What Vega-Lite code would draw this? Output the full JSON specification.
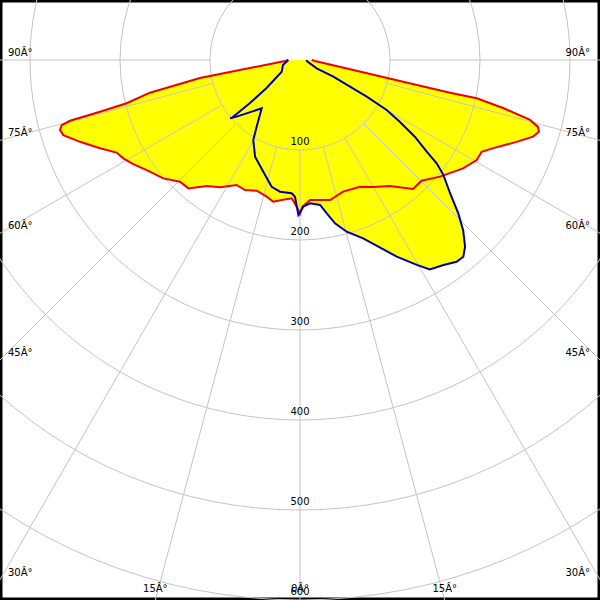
{
  "$schema": "https://vega.github.io/schema/vega-lite/v6.json",
  "width": 600,
  "height": 600,
  "autosize": {"type": "fit", "contains": "padding"},
  "padding": 0,
  "background": "white",
  "config": {
    "view": {"stroke": "black", "strokeWidth": 5},
    "text": {"font": "DejaVu Sans", "fontSize": 10, "color": "black"}
  },
  "datasets": {
    "curves": [
      {"c": "red", "i": 0, "a": -90, "v": 13},
      {"c": "red", "i": 1, "a": -86.2, "v": 16.7},
      {"c": "red", "i": 2, "a": -79.8, "v": 112.9},
      {"c": "red", "i": 3, "a": -77.7, "v": 170.6},
      {"c": "red", "i": 4, "a": -76.0, "v": 198.5},
      {"c": "red", "i": 5, "a": -75.5, "v": 229.5},
      {"c": "red", "i": 6, "a": -75.2, "v": 264.3},
      {"c": "red", "i": 7, "a": -74.7, "v": 274.5},
      {"c": "red", "i": 8, "a": -73.7, "v": 277.8},
      {"c": "red", "i": 9, "a": -72.4, "v": 275.9},
      {"c": "red", "i": 10, "a": -69.6, "v": 260.8},
      {"c": "red", "i": 11, "a": -66.2, "v": 242.9},
      {"c": "red", "i": 12, "a": -63.2, "v": 228.2},
      {"c": "red", "i": 13, "a": -60.9, "v": 224.7},
      {"c": "red", "i": 14, "a": -58.0, "v": 218.5},
      {"c": "red", "i": 15, "a": -54.3, "v": 209.7},
      {"c": "red", "i": 16, "a": -49.1, "v": 200.9},
      {"c": "red", "i": 17, "a": -44.6, "v": 189.9},
      {"c": "red", "i": 18, "a": -41.0, "v": 189.0},
      {"c": "red", "i": 19, "a": -36.5, "v": 174.2},
      {"c": "red", "i": 20, "a": -32.1, "v": 167.0},
      {"c": "red", "i": 21, "a": -26.9, "v": 155.7},
      {"c": "red", "i": 22, "a": -22.9, "v": 156.8},
      {"c": "red", "i": 23, "a": -18.3, "v": 153.0},
      {"c": "red", "i": 24, "a": -13.7, "v": 156.3},
      {"c": "red", "i": 25, "a": -10.7, "v": 160.2},
      {"c": "red", "i": 26, "a": -7.4, "v": 156.9},
      {"c": "red", "i": 27, "a": -3.4, "v": 153.9},
      {"c": "red", "i": 28, "a": -1.3, "v": 163.0},
      {"c": "red", "i": 29, "a": 0, "v": 171},
      {"c": "red", "i": 30, "a": 1.0, "v": 163.0},
      {"c": "red", "i": 31, "a": 4.1, "v": 156.0},
      {"c": "red", "i": 32, "a": 12.1, "v": 159.1},
      {"c": "red", "i": 33, "a": 18.1, "v": 153.9},
      {"c": "red", "i": 34, "a": 25.3, "v": 155.8},
      {"c": "red", "i": 35, "a": 29.9, "v": 162.8},
      {"c": "red", "i": 36, "a": 35.5, "v": 172.0},
      {"c": "red", "i": 37, "a": 41.2, "v": 190.6},
      {"c": "red", "i": 38, "a": 45.2, "v": 190.4},
      {"c": "red", "i": 39, "a": 50.2, "v": 202.5},
      {"c": "red", "i": 40, "a": 56.4, "v": 217.5},
      {"c": "red", "i": 41, "a": 60.5, "v": 225.6},
      {"c": "red", "i": 42, "a": 63.2, "v": 226.1},
      {"c": "red", "i": 43, "a": 65.5, "v": 236.1},
      {"c": "red", "i": 44, "a": 69.3, "v": 257.3},
      {"c": "red", "i": 45, "a": 71.8, "v": 272.6},
      {"c": "red", "i": 46, "a": 73.3, "v": 277.2},
      {"c": "red", "i": 47, "a": 74.3, "v": 274.6},
      {"c": "red", "i": 48, "a": 75.4, "v": 264.1},
      {"c": "red", "i": 49, "a": 76.7, "v": 231.8},
      {"c": "red", "i": 50, "a": 77.8, "v": 200.9},
      {"c": "red", "i": 51, "a": 77.7, "v": 170.6},
      {"c": "red", "i": 52, "a": 78.1, "v": 113.5},
      {"c": "red", "i": 53, "a": 86.2, "v": 16.7},
      {"c": "red", "i": 54, "a": 90, "v": 13},
      {"c": "blue", "i": 0, "a": -90, "v": 13},
      {"c": "blue", "i": 1, "a": -73.6, "v": 19.7},
      {"c": "blue", "i": 2, "a": -57.4, "v": 24.1},
      {"c": "blue", "i": 3, "a": -50.1, "v": 48.4},
      {"c": "blue", "i": 4, "a": -49.3, "v": 73.3},
      {"c": "blue", "i": 5, "a": -49.7, "v": 99.6},
      {"c": "blue", "i": 6, "a": -50.2, "v": 101.2},
      {"c": "blue", "i": 7, "a": -48.2, "v": 94.4},
      {"c": "blue", "i": 8, "a": -38.4, "v": 68.5},
      {"c": "blue", "i": 9, "a": -33.0, "v": 88.4},
      {"c": "blue", "i": 10, "a": -30.3, "v": 102.9},
      {"c": "blue", "i": 11, "a": -24.9, "v": 118.5},
      {"c": "blue", "i": 12, "a": -18.2, "v": 130.6},
      {"c": "blue", "i": 13, "a": -12.6, "v": 144.3},
      {"c": "blue", "i": 14, "a": -8.6, "v": 148.0},
      {"c": "blue", "i": 15, "a": -3.6, "v": 148.4},
      {"c": "blue", "i": 16, "a": -2.1, "v": 152.0},
      {"c": "blue", "i": 17, "a": -0.6, "v": 172.2},
      {"c": "blue", "i": 18, "a": 1.3, "v": 163.0},
      {"c": "blue", "i": 19, "a": 4.0, "v": 159.6},
      {"c": "blue", "i": 20, "a": 7.9, "v": 162.6},
      {"c": "blue", "i": 21, "a": 9.9, "v": 172.9},
      {"c": "blue", "i": 22, "a": 12.1, "v": 185.6},
      {"c": "blue", "i": 23, "a": 15.2, "v": 197.7},
      {"c": "blue", "i": 24, "a": 19.5, "v": 210.2},
      {"c": "blue", "i": 25, "a": 26.2, "v": 243.5},
      {"c": "blue", "i": 26, "a": 29.7, "v": 262.1},
      {"c": "blue", "i": 27, "a": 31.8, "v": 273.8},
      {"c": "blue", "i": 28, "a": 35.0, "v": 278.0},
      {"c": "blue", "i": 29, "a": 37.8, "v": 283.8},
      {"c": "blue", "i": 30, "a": 39.7, "v": 284.1},
      {"c": "blue", "i": 31, "a": 41.5, "v": 276.8},
      {"c": "blue", "i": 32, "a": 43.8, "v": 261.9},
      {"c": "blue", "i": 33, "a": 45.9, "v": 244.9},
      {"c": "blue", "i": 34, "a": 48.4, "v": 223.0},
      {"c": "blue", "i": 35, "a": 51.3, "v": 204.1},
      {"c": "blue", "i": 36, "a": 52.9, "v": 190.4},
      {"c": "blue", "i": 37, "a": 54.1, "v": 173.8},
      {"c": "blue", "i": 38, "a": 56.2, "v": 153.8},
      {"c": "blue", "i": 39, "a": 58.2, "v": 130.7},
      {"c": "blue", "i": 40, "a": 60.0, "v": 111.2},
      {"c": "blue", "i": 41, "a": 61.2, "v": 84.6},
      {"c": "blue", "i": 42, "a": 61.9, "v": 63.0},
      {"c": "blue", "i": 43, "a": 63.4, "v": 41.4},
      {"c": "blue", "i": 44, "a": 63.6, "v": 20.7},
      {"c": "blue", "i": 45, "a": 80, "v": 8},
      {"c": "blue", "i": 46, "a": 90, "v": 7}
    ],
    "rings": [
      {"r": 100, "label": "100"},
      {"r": 200, "label": "200"},
      {"r": 300, "label": "300"},
      {"r": 400, "label": "400"},
      {"r": 500, "label": "500"},
      {"r": 600, "label": "600"}
    ],
    "spokes": [
      {"a": -90}, {"a": -75}, {"a": -60}, {"a": -45}, {"a": -30}, {"a": -15}, {"a": 0},
      {"a": 15}, {"a": 30}, {"a": 45}, {"a": 60}, {"a": 75}, {"a": 90}
    ],
    "leftLabels": [
      {"a": -90, "r": 333.333, "label": "90Â°"},
      {"a": -75, "r": 345.09, "label": "75Â°"},
      {"a": -60, "r": 384.9, "label": "60Â°"},
      {"a": -45, "r": 471.4, "label": "45Â°"},
      {"a": -30, "r": 666.667, "label": "30Â°"}
    ],
    "rightLabels": [
      {"a": 90, "r": 333.333, "label": "90Â°"},
      {"a": 75, "r": 345.09, "label": "75Â°"},
      {"a": 60, "r": 384.9, "label": "60Â°"},
      {"a": 45, "r": 471.4, "label": "45Â°"},
      {"a": 30, "r": 666.667, "label": "30Â°"}
    ],
    "bottomLabels": [
      {"a": -15, "r": 621.17, "label": "15Â°"},
      {"a": 0, "r": 600, "label": "0Â°"},
      {"a": 15, "r": 621.17, "label": "15Â°"}
    ]
  },
  "encoding": {
    "x": {"field": "x", "type": "quantitative", "scale": {"domain": [-333.333, 333.333], "nice": false, "zero": false}, "axis": null},
    "y": {"field": "y", "type": "quantitative", "scale": {"domain": [-600, 66.667], "nice": false, "zero": false}, "axis": null}
  },
  "layer": [
    {
      "data": {"name": "curves"},
      "transform": [
        {"calculate": "datum.v * sin(datum.a * PI / 180)", "as": "x"},
        {"calculate": "-datum.v * cos(datum.a * PI / 180)", "as": "y"}
      ],
      "mark": {"type": "line", "fill": "#ffff00", "stroke": "transparent", "strokeWidth": 0},
      "encoding": {
        "detail": {"field": "c", "type": "nominal"},
        "order": {"field": "i", "type": "quantitative"}
      }
    },
    {
      "data": {"name": "rings"},
      "transform": [
        {"calculate": "0", "as": "x"},
        {"calculate": "0", "as": "y"}
      ],
      "mark": {"type": "point", "shape": "circle", "filled": false, "stroke": "#c4c4c4", "strokeWidth": 1, "opacity": 1, "clip": true},
      "encoding": {
        "size": {"field": "r", "type": "quantitative", "scale": {"type": "pow", "exponent": 2, "domain": [0, 600], "range": [0, 1166400], "zero": true}, "legend": null}
      }
    },
    {
      "data": {"name": "spokes"},
      "transform": [
        {"calculate": "100 * sin(datum.a * PI / 180)", "as": "x"},
        {"calculate": "-100 * cos(datum.a * PI / 180)", "as": "y"},
        {"calculate": "1000 * sin(datum.a * PI / 180)", "as": "x2"},
        {"calculate": "-1000 * cos(datum.a * PI / 180)", "as": "y2"}
      ],
      "mark": {"type": "rule", "stroke": "#c4c4c4", "strokeWidth": 1, "clip": true},
      "encoding": {
        "x2": {"field": "x2"},
        "y2": {"field": "y2"}
      }
    },
    {
      "data": {"name": "rings"},
      "transform": [
        {"calculate": "0", "as": "x"},
        {"calculate": "-datum.r", "as": "y"}
      ],
      "mark": {"type": "text", "align": "center", "baseline": "bottom", "dy": -3},
      "encoding": {"text": {"field": "label"}}
    },
    {
      "data": {"name": "leftLabels"},
      "transform": [
        {"calculate": "datum.r * sin(datum.a * PI / 180)", "as": "x"},
        {"calculate": "-datum.r * cos(datum.a * PI / 180)", "as": "y"}
      ],
      "mark": {"type": "text", "align": "left", "baseline": "bottom", "dx": 8, "dy": -2},
      "encoding": {"text": {"field": "label"}}
    },
    {
      "data": {"name": "rightLabels"},
      "transform": [
        {"calculate": "datum.r * sin(datum.a * PI / 180)", "as": "x"},
        {"calculate": "-datum.r * cos(datum.a * PI / 180)", "as": "y"}
      ],
      "mark": {"type": "text", "align": "right", "baseline": "bottom", "dx": -10, "dy": -2},
      "encoding": {"text": {"field": "label"}}
    },
    {
      "data": {"name": "bottomLabels"},
      "transform": [
        {"calculate": "datum.r * sin(datum.a * PI / 180)", "as": "x"},
        {"calculate": "-datum.r * cos(datum.a * PI / 180)", "as": "y"}
      ],
      "mark": {"type": "text", "align": "center", "baseline": "bottom", "dy": -6},
      "encoding": {"text": {"field": "label"}}
    },
    {
      "data": {"name": "curves"},
      "transform": [
        {"filter": "datum.c === 'red'"},
        {"calculate": "datum.v * sin(datum.a * PI / 180)", "as": "x"},
        {"calculate": "-datum.v * cos(datum.a * PI / 180)", "as": "y"}
      ],
      "mark": {"type": "line", "stroke": "#ee0000", "strokeWidth": 2},
      "encoding": {"order": {"field": "i", "type": "quantitative"}}
    },
    {
      "data": {"name": "curves"},
      "transform": [
        {"filter": "datum.c === 'blue'"},
        {"calculate": "datum.v * sin(datum.a * PI / 180)", "as": "x"},
        {"calculate": "-datum.v * cos(datum.a * PI / 180)", "as": "y"}
      ],
      "mark": {"type": "line", "stroke": "#0000aa", "strokeWidth": 2},
      "encoding": {"order": {"field": "i", "type": "quantitative"}}
    }
  ]
}
